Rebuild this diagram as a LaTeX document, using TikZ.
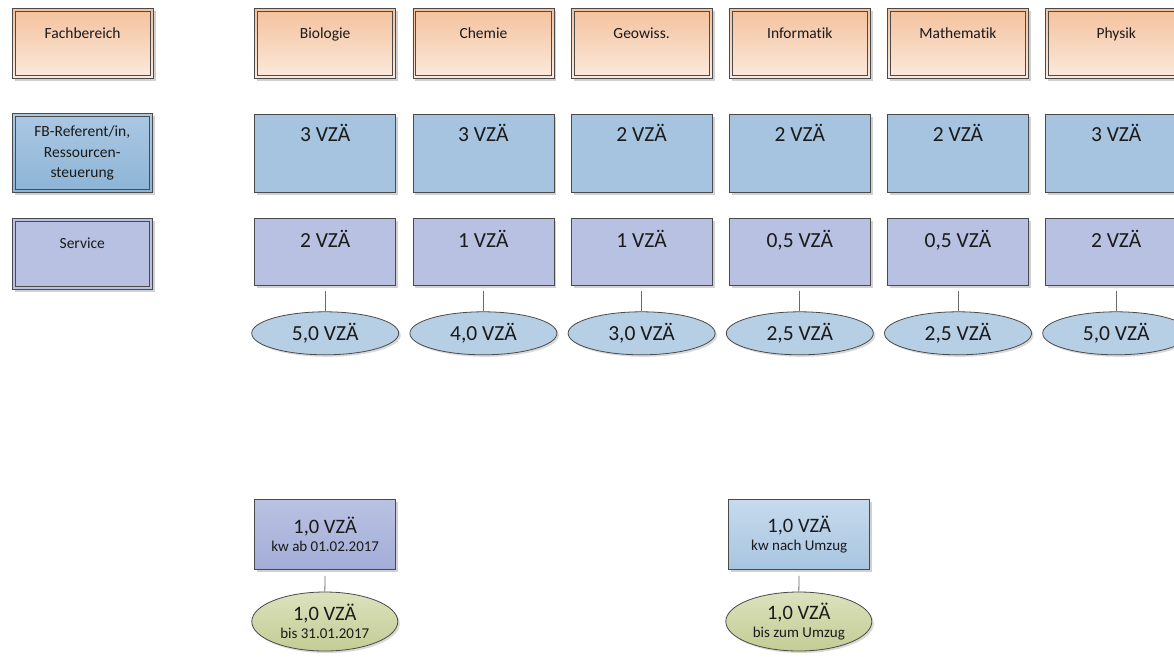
\documentclass[tikz,border=0pt]{standalone}
\usepackage{fontspec}
\setmainfont{Carlito}[Ligatures={NoCommon}]
\usetikzlibrary{shapes.geometric,shadows}

\definecolor{txt}{HTML}{1A1A1A}
\definecolor{frame}{HTML}{4A4A4A}
\definecolor{hdtop}{HTML}{F3C19B}
\definecolor{hdbot}{HTML}{FCEADF}
\definecolor{reftop}{HTML}{ABC8E3}
\definecolor{refbot}{HTML}{8DB4D6}
\definecolor{refdata}{HTML}{A6C4DF}
\definecolor{servfill}{HTML}{B8C1E1}
\definecolor{sumfill}{HTML}{B7CFE5}
\definecolor{lavtop}{HTML}{BAC2E2}
\definecolor{lavbot}{HTML}{A3ADD7}
\definecolor{bluetop}{HTML}{C6DAED}
\definecolor{bluebot}{HTML}{A8C5E0}
\definecolor{olivetop}{HTML}{DCE1BD}
\definecolor{olivebot}{HTML}{C3CD95}
\definecolor{wire}{HTML}{6A6A6A}

\newcommand\hdfont{\fontsize{15.5}{20.5}\selectfont}
\newcommand\vzfont{\fontsize{21.5}{24}\selectfont}
\newcommand\lowfont{\fontsize{15}{17.5}\selectfont}
\newcommand\lowbig{\fontsize{20.5}{17.5}\selectfont}

\tikzset{
  base/.style={rectangle, inner sep=0pt, anchor=north west, draw=frame,
    line width=0.8pt, text=txt,
    drop shadow={shadow xshift=2.5pt, shadow yshift=-2.5pt, fill=black!18, opacity=1}},
  hdbox/.style={base, minimum width=141pt, top color=hdtop, bottom color=hdbot,
    font=\hdfont, text height=30pt, text depth=40pt},
  refbox/.style={base, minimum width=141pt, fill=refdata, font=\vzfont,
    text height=27.5pt, text depth=50.5pt},
  servbox/.style={base, minimum width=141pt, fill=servfill, font=\vzfont,
    text height=29pt, text depth=38pt},
  sumoval/.style={ellipse, inner sep=0pt, draw=frame, line width=0.8pt, text=txt,
    minimum width=147pt, minimum height=43pt, fill=sumfill, font=\vzfont,
    drop shadow={shadow xshift=2pt, shadow yshift=-2pt, fill=black!15, opacity=1}},
  lowbox/.style={base, minimum width=141pt, minimum height=70pt, align=center,
    font=\lowfont},
  lowoval/.style={ellipse, inner sep=0pt, draw=frame, line width=0.8pt, text=txt,
    minimum width=146pt, minimum height=59pt, align=center, font=\lowfont,
    top color=olivetop, bottom color=olivebot,
    drop shadow={shadow xshift=2pt, shadow yshift=-2pt, fill=black!15, opacity=1}},
  innerframe/.style={draw=frame, line width=0.7pt},
  wireline/.style={draw=wire, line width=0.8pt, shorten <=5pt}
}

\begin{document}
\begin{tikzpicture}[x=1pt, y=-1pt]
  \useasboundingbox (0,0) rectangle (1174,656);
  \clip (0,0) rectangle (1174,656);
  \fill[white] (0,0) rectangle (1174,656);

  % legend column
  \node[hdbox] (lfb) at (11.7,8.3) {Fachbereich};
  \node[base, minimum width=140.3pt, minimum height=79pt, top color=reftop,
        bottom color=refbot, font=\hdfont, align=center] (lref) at (11.7,113.3)
        {FB-Referent/in,\\Ressourcen-\\steuerung};
  \node[base, minimum width=140.3pt, fill=servfill, font=\hdfont,
        text height=30pt, text depth=41pt] (lserv) at (11.7,218) {Service};

  % departments: staff in controlling, service, and their sum
  \foreach \i/\name/\ref/\serv/\sum in {
      0/Biologie/3/2/{5,0},
      1/Chemie/3/1/{4,0},
      2/Geowiss./2/1/{3,0},
      3/Informatik/2/{0,5}/{2,5},
      4/Mathematik/2/{0,5}/{2,5},
      5/Physik/3/2/{5,0}}{
    \pgfmathsetmacro{\xl}{254.3+158.2*\i}
    \node[hdbox] (h\i) at (\xl,8.3) {\name};
    \node[refbox] (r\i) at (\xl,114) {\ref\ VZÄ};
    \node[servbox] (s\i) at (\xl,218) {\serv\ VZÄ};
    \node[sumoval] (e\i) at ([yshift=-47.5pt]s\i.south) {\sum\ VZÄ};
    \draw[wireline] (s\i.south) -- (e\i.north);
  }

  % inner frames of the double-bordered boxes
  \foreach \n in {lfb,lref,lserv,h0,h1,h2,h3,h4,h5}
    \draw[innerframe] ([shift={(3.3,3.3)}]\n.north west)
      rectangle ([shift={(-3.3,-3.3)}]\n.south east);

  % temporary positions
  \node[lowbox, top color=lavtop, bottom color=lavbot] (kb) at (254.3,499)
    {{\lowbig 1,0 VZÄ}\\kw ab 01.02.2017};
  \node[lowoval] (ob) at (324.8,621.5) {{\lowbig 1,0 VZÄ}\\bis 31.01.2017};
  \draw[wireline, shorten <=6pt] (kb.south) -- (ob.north);

  \node[lowbox, top color=bluetop, bottom color=bluebot] (ki) at (728.3,499)
    {{\lowbig 1,0 VZÄ}\\kw nach Umzug};
  \node[lowoval] (oi) at (798.8,621.5) {{\lowbig 1,0 VZÄ}\\bis zum Umzug};
  \draw[wireline, shorten <=6pt] (ki.south) -- (oi.north);
\end{tikzpicture}
\end{document}
